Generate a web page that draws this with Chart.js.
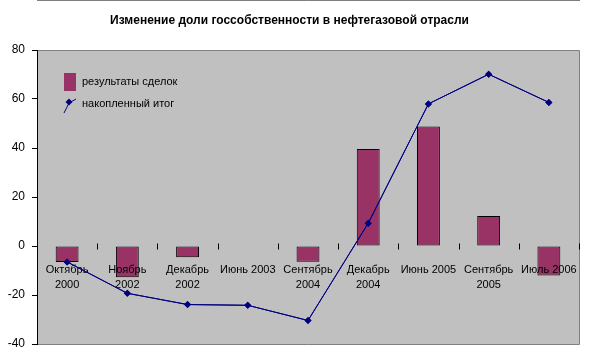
<!DOCTYPE html>
<html>
<head>
<meta charset="utf-8">
<script src="https://cdn.jsdelivr.net/npm/chart.js@4.4.1/dist/chart.umd.min.js"></script>
<style>
  html, body { margin: 0; padding: 0; background: #fff; }
  #wrap { width: 590px; height: 359px; }
</style>
</head>
<body>
<div id="wrap"><canvas id="chart"></canvas></div>
<script>
const chartTitle = 'Изменение доли госсобственности в нефтегазовой отрасли';
const categories = [
  ['Октябрь', '2000'], ['Ноябрь', '2002'], ['Декабрь', '2002'], 'Июнь 2003',
  ['Сентябрь', '2004'], ['Декабрь', '2004'], 'Июнь 2005', ['Сентябрь', '2005'], 'Июль 2006'
];
const dealResults = [-6.5, -12.8, -4.6, null, -6.4, 39.6, 48.8, 12.2, -12.0];
const cumulativeTotal = [-6.5, -19.3, -23.9, -24.2, -30.4, 9.3, 58.0, 70.1, 58.6];
const yMin = -40, yMax = 80, yStep = 20;

const FONT = '"Liberation Sans", Arial, sans-serif';

// серый фон области построения + рамка
const plotBg = {
  id: 'plotBg',
  beforeDraw(chart) {
    const { ctx, chartArea: a } = chart;
    ctx.save();
    ctx.fillStyle = '#c0c0c0';
    ctx.fillRect(a.left, a.top, a.right - a.left, a.bottom - a.top);
    ctx.strokeStyle = '#808080';
    ctx.lineWidth = 1;
    ctx.beginPath();
    ctx.moveTo(a.left, a.top + 0.5);
    ctx.lineTo(a.right + 0.5, a.top + 0.5);
    ctx.lineTo(a.right + 0.5, a.bottom + 0.5);
    ctx.lineTo(a.left, a.bottom + 0.5);
    ctx.stroke();
    ctx.restore();
  },
  afterDraw(chart) {
    // засечки на нулевой оси между категориями
    const { ctx, scales: { x, y } } = chart;
    const y0 = Math.round(y.getPixelForValue(0)) + 0.5;
    const n = categories.length;
    ctx.save();
    ctx.strokeStyle = '#000';
    ctx.lineWidth = 1;
    ctx.beginPath();
    for (let i = 0; i <= n; i++) {
      const px = Math.round(x.left + i * (x.right - x.left) / n) + 0.5;
      ctx.moveTo(px, y0 - 3);
      ctx.lineTo(px, y0 + 3);
    }
    ctx.stroke();
    ctx.restore();
    // линия накопленного итога поверх подписей категорий
    chart.getDatasetMeta(1).controller.draw();
  }
};

// легенда внутри области построения
const innerLegend = {
  id: 'innerLegend',
  afterDraw(chart) {
    const { ctx, chartArea: a } = chart;
    const [bars, line] = chart.data.datasets;
    const lx = a.left + 27;
    ctx.save();
    ctx.fillStyle = bars.backgroundColor;
    ctx.fillRect(lx, a.top + 23, 12, 18);
    ctx.strokeStyle = line.borderColor;
    ctx.lineWidth = 1;
    ctx.beginPath();
    ctx.moveTo(lx, a.top + 63);
    ctx.lineTo(lx + 5, a.top + 53);
    ctx.lineTo(lx + 12, a.top + 49);
    ctx.stroke();
    ctx.fillStyle = line.borderColor;
    ctx.beginPath();
    const cx = lx + 5, cy = a.top + 52;
    ctx.moveTo(cx, cy - 3.5); ctx.lineTo(cx + 3.5, cy); ctx.lineTo(cx, cy + 3.5); ctx.lineTo(cx - 3.5, cy);
    ctx.closePath();
    ctx.fill();
    ctx.fillStyle = '#000';
    ctx.font = '11px ' + FONT;
    ctx.textBaseline = 'middle';
    ctx.fillText(bars.label, lx + 18, a.top + 32);
    ctx.fillText(line.label, lx + 18, a.top + 54);
    ctx.restore();
  }
};

new Chart(document.getElementById('chart'), {
  data: {
    labels: categories,
    datasets: [
      {
        type: 'bar',
        label: 'результаты сделок',
        data: dealResults,
        backgroundColor: '#993366',
        borderColor: '#000',
        borderWidth: 1,
        borderSkipped: false,
        barPercentage: 0.38,
        categoryPercentage: 1,
        order: 1
      },
      {
        type: 'line',
        label: 'накопленный итог',
        data: cumulativeTotal,
        borderColor: '#000080',
        backgroundColor: '#000080',
        borderWidth: 1,
        pointStyle: 'rectRot',
        pointRadius: 3.5,
        pointBorderWidth: 0,
        tension: 0,
        order: 0
      }
    ]
  },
  options: {
    responsive: true,
    maintainAspectRatio: false,
    animation: false,
    layout: { padding: { left: 0, right: 11, bottom: 15, top: 0 } },
    plugins: {
      legend: { display: false },
      tooltip: { enabled: false },
      title: {
        display: true,
        text: chartTitle,
        color: '#000',
        font: { family: FONT, size: 12, weight: 'bold' },
        padding: { top: 13, bottom: 22.6 }
      }
    },
    scales: {
      x: {
        position: { y: 0 },
        offset: true,
        grid: { display: false, z: 1 },
        border: { display: true, color: '#000', width: 1 },
        ticks: {
          z: 1,
          color: '#000',
          font: { family: FONT, size: 11, lineHeight: 1.4 },
          padding: 8,
          maxRotation: 0,
          autoSkip: false
        },
        afterFit(scale) { scale.height = 0; }
      },
      y: {
        min: yMin,
        max: yMax,
        grid: { drawOnChartArea: false, color: '#000', tickLength: 5 },
        border: { color: '#000', width: 1 },
        ticks: {
          stepSize: yStep,
          color: '#000',
          font: { family: FONT, size: 12 },
          padding: 7
        },
        afterFit(scale) { scale.width = 37; }
      }
    }
  },
  plugins: [plotBg, innerLegend]
});
</script>
</body>
</html>
